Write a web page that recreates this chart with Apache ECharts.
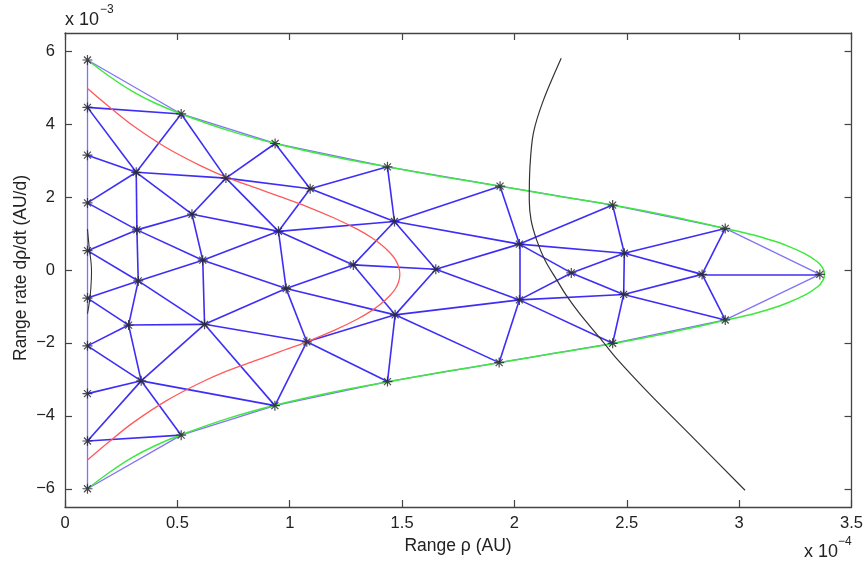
<!DOCTYPE html>
<html>
<head>
<meta charset="utf-8">
<title>Range / range-rate triangulation</title>
<script src="https://cdn.jsdelivr.net/npm/echarts@6/dist/echarts.min.js"></script>
<style>
  html, body { margin: 0; padding: 0; background: #fff; }
  #chart { width: 866px; height: 563px; }
</style>
</head>
<body>
<div id="chart"></div>
<script>
// Axis ticks (range in 1e-4 AU, range rate in 1e-3 AU/d)
const xTicks = [0, 0.5, 1, 1.5, 2, 2.5, 3, 3.5];
const yTicks = [-6, -4, -2, 0, 2, 4, 6];

// Mesh nodes: range ρ (×1e-4 AU) and range rate dρ/dt (×1e-3 AU/d)
const nodeRho = [
  0.1, 0.1, 0.1, 0.1, 0.1, 0.1, 0.1, 0.1, 0.1, 0.1,
  0.517, 0.935, 1.435, 1.936, 2.437, 2.938, 3.359, 2.938, 2.437, 1.932, 1.435, 0.934, 0.517,
  0.317, 0.716, 1.091, 0.32, 0.565, 0.95, 1.466, 0.613, 1.283, 1.65, 2.022,
  0.326, 0.984, 1.469, 2.022, 0.283, 0.621, 1.076, 0.339, 2.489, 2.253, 2.835, 2.486
];
const nodeRate = [
  5.76, 4.46, 3.15, 1.84, 0.53, -0.77, -2.08, -3.39, -4.69, -6.0,
  4.28, 3.47, 2.83, 2.30, 1.78, 1.14, -0.12, -1.37, -2.01, -2.54, -3.06, -3.72, -4.53,
  2.68, 2.52, 2.23, 1.10, 1.53, 1.06, 1.33, 0.27, 0.14, 0.02, 0.71,
  -0.30, -0.51, -1.23, -0.82, -1.51, -1.49, -1.97, -3.04, 0.46, -0.08, -0.12, -0.67
];

// Triangle edges on the hull of the mesh (node index pairs)
const boundaryEdges = [
  [0,1],[1,2],[2,3],[3,4],[4,5],[5,6],[6,7],[7,8],[8,9],
  [0,10],[10,11],[11,12],[12,13],[13,14],[14,15],[15,16],
  [16,17],[17,18],[18,19],[19,20],[20,21],[21,22],[22,9]
];
// Triangle edges inside the mesh
const interiorEdges = [
  [1,10],[1,23],[10,23],[2,23],[3,23],[10,24],[23,24],[11,24],[24,25],[11,25],
  [12,25],[23,26],[23,27],[24,27],[24,28],[25,28],[25,29],[12,29],[13,29],[3,26],
  [4,26],[26,27],[27,28],[26,30],[27,30],[28,30],[28,29],[28,31],[29,31],[29,32],
  [29,33],[13,33],[14,33],[31,32],[32,33],[26,34],[4,34],[5,34],[30,34],[28,35],
  [30,35],[31,35],[31,36],[32,36],[32,37],[33,37],[33,42],[33,43],[14,42],[15,42],
  [15,44],[16,44],[17,44],[42,44],[42,43],[42,45],[43,45],[43,37],[44,45],[17,45],
  [18,45],[37,45],[37,18],[37,19],[36,37],[36,19],[36,20],[35,36],[36,40],[35,40],
  [35,39],[30,39],[34,39],[34,38],[5,38],[6,38],[38,39],[39,40],[40,20],[40,21],
  [39,21],[39,41],[38,41],[6,41],[7,41],[8,41],[21,41],[22,41],[8,22]
];

// Outer admissible-region boundary (green)
const outerRho = [
  0.1, 0.2, 0.3, 0.4, 0.517, 0.726, 0.935, 1.185, 1.435, 1.686, 1.936, 2.19, 2.437, 2.69, 2.938,
  3.065, 3.151, 3.211, 3.292, 3.349, 3.372, 3.38,
  3.372, 3.349, 3.292, 3.211, 3.151, 3.065,
  2.938, 2.69, 2.437, 2.19, 1.936, 1.686, 1.435, 1.185, 0.935, 0.726, 0.517, 0.4, 0.3, 0.2, 0.1
];
const outerRate = [
  5.76, 5.30, 4.90, 4.58, 4.28, 3.83, 3.47, 3.12, 2.83, 2.55, 2.30, 2.03, 1.78, 1.48, 1.14,
  0.96, 0.80, 0.67, 0.45, 0.22, 0.05, -0.12,
  -0.29, -0.46, -0.69, -0.91, -1.04, -1.20,
  -1.38, -1.72, -2.02, -2.27, -2.54, -2.79, -3.07, -3.36, -3.71, -4.07, -4.52, -4.82, -5.14, -5.54, -6.0
];

// Inner boundary (red)
const innerRho = [
  0.1, 0.2, 0.3, 0.45, 0.6, 0.716, 0.85, 0.957, 1.076, 1.2, 1.3, 1.365, 1.409, 1.444, 1.47, 1.485, 1.49,
  1.485, 1.47, 1.444, 1.409, 1.365, 1.3, 1.2, 1.076, 0.957, 0.85, 0.716, 0.6, 0.45, 0.3, 0.2, 0.1
];
const innerRate = [
  4.98, 4.46, 3.97, 3.36, 2.87, 2.55, 2.25, 2.01, 1.74, 1.42, 1.12, 0.885, 0.685, 0.485, 0.285, 0.085, -0.115,
  -0.315, -0.515, -0.715, -0.915, -1.115, -1.35, -1.65, -1.97, -2.24, -2.48, -2.78, -3.10, -3.59, -4.20, -4.69, -5.21
];

// Long curve crossing the region (black)
const crossRho = [
  2.208, 2.129, 2.084, 2.069, 2.066, 2.074, 2.099, 2.136, 2.188, 2.23, 2.292, 2.381, 2.452, 2.6, 2.8, 3.026
];
const crossRate = [
  5.81, 4.66, 3.75, 2.83, 1.92, 1.37, 0.82, 0.27, -0.27, -0.69, -1.21, -1.87, -2.41, -3.39, -4.63, -6.04
];

// Short arc near the minimum range (black)
const arcRho = [0.1, 0.108, 0.116, 0.118, 0.115, 0.108, 0.1];
const arcRate = [1.12, 0.6, 0.2, -0.05, -0.5, -0.9, -1.2];

const FONT = '"Liberation Sans", Arial, Helvetica, sans-serif';

function pairs(xs, ys) { return xs.map((x, i) => [x, ys[i]]); }
function edgeLines(edges) {
  return edges.map(([a, b]) => ({ coords: [[nodeRho[a], nodeRate[a]], [nodeRho[b], nodeRate[b]]] }));
}
function tickText(v) { return String(v).replace('-', '\u2212'); }

const frameLine = { show: true, onZero: false, lineStyle: { color: '#444', width: 1.3 } };
const frameTick = { show: true, inside: true, length: 7, lineStyle: { color: '#444', width: 1.2 } };
const tickFont = { fontSize: 16.5, color: '#222', fontFamily: FONT };

const chart = echarts.init(document.getElementById('chart'));
chart.setOption({
  animation: false,
  backgroundColor: '#fff',
  grid: { left: 65, right: 14, top: 33, bottom: 56, containLabel: false },
  xAxis: [
    {
      type: 'value', min: 0, max: 3.5, interval: 0.5, position: 'bottom',
      axisLine: frameLine, axisTick: frameTick, splitLine: { show: false },
      axisLabel: Object.assign({ margin: 8, customValues: xTicks, formatter: tickText }, tickFont)
    },
    {
      type: 'value', min: 0, max: 3.5, interval: 0.5, position: 'top',
      axisLine: frameLine, axisTick: frameTick, splitLine: { show: false },
      axisLabel: { show: false }
    }
  ],
  yAxis: [
    {
      type: 'value', min: -6.5, max: 6.5, position: 'left',
      axisLine: frameLine, splitLine: { show: false },
      axisTick: Object.assign({}, frameTick, { customValues: yTicks }),
      axisLabel: Object.assign({ margin: 10, customValues: yTicks, formatter: tickText }, tickFont)
    },
    {
      type: 'value', min: -6.5, max: 6.5, position: 'right',
      axisLine: frameLine, splitLine: { show: false },
      axisTick: Object.assign({}, frameTick, { customValues: yTicks }),
      axisLabel: { show: false }
    }
  ],
  series: [
    {
      type: 'lines', coordinateSystem: 'cartesian2d', silent: true, z: 2,
      lineStyle: { color: '#6a5cf2', width: 1.3, opacity: 0.85 },
      data: edgeLines(boundaryEdges)
    },
    {
      type: 'lines', coordinateSystem: 'cartesian2d', silent: true, z: 2,
      lineStyle: { color: '#3322f4', width: 1.6, opacity: 0.95 },
      data: edgeLines(interiorEdges)
    },
    {
      type: 'line', data: pairs(outerRho, outerRate), showSymbol: false, smooth: 0.3,
      silent: true, z: 3, lineStyle: { color: '#3ee83e', width: 1.5 }
    },
    {
      type: 'line', data: pairs(innerRho, innerRate), showSymbol: false, smooth: 0.3,
      silent: true, z: 3, lineStyle: { color: '#ff5a5a', width: 1.3 }
    },
    {
      type: 'line', data: pairs(crossRho, crossRate), showSymbol: false, smooth: 0.3,
      silent: true, z: 3, lineStyle: { color: '#333', width: 1.2 }
    },
    {
      type: 'line', data: pairs(arcRho, arcRate), showSymbol: false, smooth: 0.4,
      silent: true, z: 3, lineStyle: { color: '#333', width: 1.1 }
    },
    {
      type: 'scatter', data: pairs(nodeRho, nodeRate), silent: true, z: 5,
      symbol: 'path://M5,0L5,10M0,5L10,5M1.5,1.5L8.5,8.5M8.5,1.5L1.5,8.5',
      symbolSize: 10,
      itemStyle: { color: 'rgba(0,0,0,0)', borderColor: '#2a2a33', borderWidth: 1.2, opacity: 0.85 }
    }
  ],
  graphic: [
    { type: 'text', left: 65, top: 11,
      style: { text: 'x 10', font: '18px ' + FONT, fill: '#222' } },
    { type: 'text', left: 100, top: 4,
      style: { text: '\u22123', font: '12px ' + FONT, fill: '#222' } },
    { type: 'text', left: 804, top: 543,
      style: { text: 'x 10', font: '18px ' + FONT, fill: '#222' } },
    { type: 'text', left: 838, top: 536,
      style: { text: '\u22124', font: '12px ' + FONT, fill: '#222' } },
    { type: 'text', x: 458, y: 546,
      style: { text: 'Range \u03c1 (AU)', font: '17.5px ' + FONT, fill: '#222',
        textAlign: 'center', textVerticalAlign: 'middle' } },
    { type: 'text', x: 21, y: 268, rotation: Math.PI / 2,
      style: { text: 'Range rate d\u03c1/dt (AU/d)', font: '17.5px ' + FONT, fill: '#222',
        textAlign: 'center', textVerticalAlign: 'middle' } }
  ]
});
</script>
</body>
</html>
